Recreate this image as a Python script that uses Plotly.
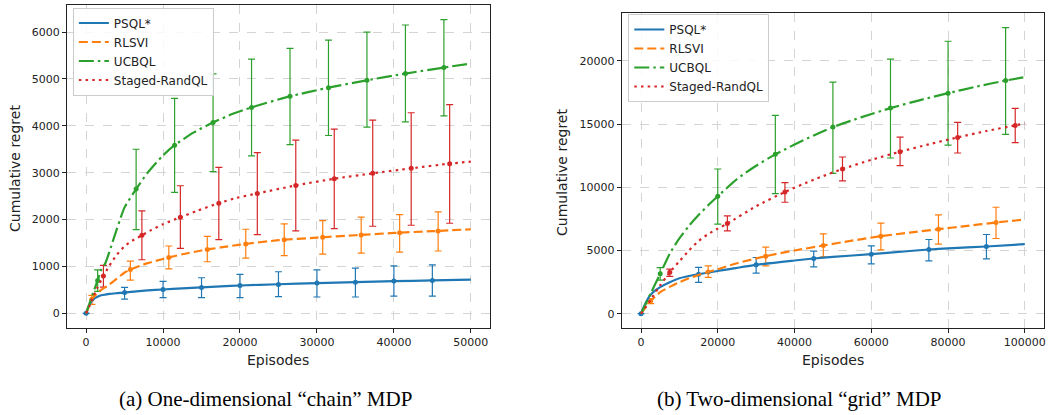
import numpy as np
import plotly.graph_objects as go

# ---------------- data: (a) chain MDP ----------------
names = ["PSQL*", "RLSVI", "UCBQL", "Staged-RandQL"]
colors = ["#1f77b4", "#ff7f0e", "#2ca02c", "#d62728"]
dashes = ["solid", "9px,4px", "15px,4px,2.5px,4px", "2.5px,4.2px"]

chain_psql_x = [0, 250, 500, 750, 1000, 1500, 2000, 2500, 3000, 4000, 5000, 6500, 8000, 10000, 12500, 15000, 17500, 20000, 25000, 30000, 35000, 40000, 45000, 50000]
chain_psql_y = [0, 120, 205, 265, 310, 355, 385, 400, 415, 430, 442, 470, 490, 508, 532, 553, 575, 594, 620, 645, 664, 686, 702, 721]
chain_rlsvi_x = [0, 250, 500, 750, 1000, 1500, 2000, 2500, 3000, 4000, 5000, 5750, 8000, 10000, 12500, 15000, 17500, 20000, 25000, 30000, 35000, 40000, 45000, 50000]
chain_rlsvi_y = [0, 100, 210, 300, 350, 440, 505, 560, 610, 740, 870, 936, 1070, 1160, 1260, 1340, 1405, 1465, 1560, 1615, 1665, 1715, 1752, 1793]
chain_ucbql_x = [0, 500, 1000, 1500, 2000, 2500, 3000, 4000, 5000, 6500, 8000, 10000, 11500, 14000, 16500, 19000, 21500, 26500, 31500, 36500, 41500, 46500, 50000]
chain_ucbql_y = [0, 240, 480, 702, 940, 1070, 1300, 1800, 2260, 2650, 3000, 3370, 3586, 3860, 4071, 4250, 4393, 4629, 4814, 4971, 5114, 5243, 5329]
chain_staged_x = [0, 500, 1000, 1500, 2250, 3000, 4000, 5000, 6000, 7250, 8500, 10000, 12250, 14500, 17250, 19500, 22250, 27250, 32250, 37250, 42250, 47250, 50000]
chain_staged_y = [0, 180, 380, 560, 794, 1010, 1250, 1430, 1550, 1664, 1780, 1900, 2050, 2190, 2350, 2460, 2557, 2729, 2871, 2986, 3093, 3193, 3236]

chain_psql_ex = [0, 5000, 10000, 15000, 20000, 25000, 30000, 35000, 40000, 45000]
chain_psql_ey = [0, 445, 508, 553, 594, 617, 645, 664, 688, 702]
chain_psql_hi = [0, 553, 681, 759, 830, 887, 929, 965, 1014, 1035]
chain_psql_lo = [0, 305, 333, 333, 333, 355, 348, 348, 369, 369]

chain_rlsvi_ex = [750, 5750, 10750, 15750, 20750, 25750, 30750, 35750, 40750, 45750]
chain_rlsvi_ey = [300, 936, 1193, 1364, 1479, 1571, 1621, 1671, 1721, 1757]
chain_rlsvi_hi = [383, 1114, 1436, 1643, 1793, 1907, 1979, 2050, 2107, 2164]
chain_rlsvi_lo = [191, 707, 950, 1100, 1179, 1229, 1264, 1286, 1307, 1329]

chain_ucbql_ex = [1500, 6500, 11500, 16500, 21500, 26500, 31500, 36500, 41500, 46500]
chain_ucbql_ey = [702, 2650, 3586, 4071, 4393, 4629, 4814, 4971, 5114, 5243]
chain_ucbql_hi = [929, 3500, 4586, 5107, 5421, 5650, 5829, 6000, 6150, 6264]
chain_ucbql_lo = [468, 1786, 2579, 3021, 3357, 3600, 3793, 3971, 4086, 4214]

chain_staged_ex = [2250, 7250, 12250, 17250, 22250, 27250, 32250, 37250, 42250, 47250]
chain_staged_ey = [794, 1664, 2050, 2350, 2557, 2729, 2871, 2986, 3093, 3193]
chain_staged_hi = [1021, 2186, 2721, 3114, 3429, 3693, 3929, 4121, 4279, 4450]
chain_staged_lo = [560, 1143, 1386, 1571, 1679, 1757, 1807, 1857, 1879, 1921]

# ---------------- data: (b) grid MDP ----------------
grid_psql_x = [0, 1000, 2000, 3000, 4000, 5000, 7500, 10000, 12500, 15000, 20000, 30000, 40000, 45000, 50000, 60000, 70000, 75000, 80000, 90000, 100000]
grid_psql_y = [0, 700, 1290, 1650, 1900, 2100, 2480, 2800, 2980, 3120, 3380, 3868, 4210, 4368, 4490, 4711, 4960, 5079, 5170, 5316, 5500]
grid_rlsvi_x = [0, 1000, 2500, 5000, 7500, 10000, 12500, 15000, 17500, 20000, 25000, 32500, 40000, 47500, 55000, 62500, 70000, 77500, 85000, 92500, 100000]
grid_rlsvi_y = [0, 420, 995, 1700, 2120, 2490, 2800, 3060, 3298, 3520, 3990, 4553, 5000, 5395, 5780, 6132, 6420, 6684, 6950, 7211, 7447]
grid_ucbql_x = [0, 1000, 2500, 5000, 7500, 10000, 12500, 15000, 17500, 20000, 25000, 30000, 35000, 40000, 45000, 50000, 57500, 65000, 72500, 80000, 87500, 95000, 100000]
grid_ucbql_y = [0, 630, 1600, 3150, 4750, 5950, 6950, 7800, 8580, 9289, 10650, 11700, 12605, 13380, 14100, 14763, 15550, 16263, 16880, 17447, 17970, 18447, 18711]
grid_staged_x = [0, 2500, 5000, 7500, 10000, 12500, 15000, 17500, 20000, 22500, 30000, 37500, 45000, 52500, 60000, 67500, 75000, 82500, 90000, 97500, 100000]
grid_staged_y = [0, 1100, 2250, 3270, 4150, 5000, 5750, 6300, 6730, 7132, 8500, 9632, 10600, 11447, 12170, 12816, 13400, 13947, 14450, 14895, 15053]

grid_psql_ex = [0, 15000, 30000, 45000, 60000, 75000, 90000]
grid_psql_ey = [0, 3120, 3868, 4368, 4711, 5079, 5316]
grid_psql_hi = [0, 3658, 4447, 4947, 5368, 5868, 6263]
grid_psql_lo = [0, 2474, 3210, 3710, 3947, 4184, 4342]

grid_rlsvi_ex = [2500, 17500, 32500, 47500, 62500, 77500, 92500]
grid_rlsvi_ey = [995, 3298, 4553, 5395, 6132, 6684, 7211]
grid_rlsvi_hi = [1184, 3789, 5263, 6316, 7158, 7816, 8421]
grid_rlsvi_lo = [789, 2868, 3789, 4500, 5053, 5500, 5947]

grid_ucbql_ex = [5000, 20000, 35000, 50000, 65000, 80000, 95000]
grid_ucbql_ey = [3150, 9289, 12605, 14763, 16263, 17447, 18447]
grid_ucbql_hi = [3650, 11447, 15684, 18316, 20132, 21553, 22632]
grid_ucbql_lo = [2660, 7079, 9500, 11105, 12316, 13342, 14184]

grid_staged_ex = [7500, 22500, 37500, 52500, 67500, 82500, 97500]
grid_staged_ey = [3270, 7132, 9632, 11447, 12816, 13947, 14895]
grid_staged_hi = [3526, 7737, 10368, 12395, 13974, 15132, 16237]
grid_staged_lo = [2947, 6553, 8816, 10500, 11711, 12711, 13526]

chain_tickvals_x = [0, 10000, 20000, 30000, 40000, 50000]
chain_tickvals_y = [0, 1000, 2000, 3000, 4000, 5000, 6000]
grid_tickvals_x = [0, 20000, 40000, 60000, 80000, 100000]
grid_tickvals_y = [0, 5000, 10000, 15000, 20000]

captions = ["(a) One-dimensional \u201cchain\u201d MDP", "(b) Two-dimensional \u201cgrid\u201d MDP"]

# ---------------- figure ----------------
W, H = 1049, 415
def px(x):
    return x / W
def py(y):
    return 1 - y / H

fig = go.Figure()

chain_curves = [(chain_psql_x, chain_psql_y), (chain_rlsvi_x, chain_rlsvi_y),
                (chain_ucbql_x, chain_ucbql_y), (chain_staged_x, chain_staged_y)]
chain_err = [(chain_psql_ex, chain_psql_ey, chain_psql_hi, chain_psql_lo),
             (chain_rlsvi_ex, chain_rlsvi_ey, chain_rlsvi_hi, chain_rlsvi_lo),
             (chain_ucbql_ex, chain_ucbql_ey, chain_ucbql_hi, chain_ucbql_lo),
             (chain_staged_ex, chain_staged_ey, chain_staged_hi, chain_staged_lo)]
grid_curves = [(grid_psql_x, grid_psql_y), (grid_rlsvi_x, grid_rlsvi_y),
               (grid_ucbql_x, grid_ucbql_y), (grid_staged_x, grid_staged_y)]
grid_err = [(grid_psql_ex, grid_psql_ey, grid_psql_hi, grid_psql_lo),
            (grid_rlsvi_ex, grid_rlsvi_ey, grid_rlsvi_hi, grid_rlsvi_lo),
            (grid_ucbql_ex, grid_ucbql_ey, grid_ucbql_hi, grid_ucbql_lo),
            (grid_staged_ex, grid_staged_ey, grid_staged_hi, grid_staged_lo)]

for panel, (curves, errs, xa, ya, leg) in enumerate([
        (chain_curves, chain_err, "x", "y", "legend"),
        (grid_curves, grid_err, "x2", "y2", "legend2")]):
    for i in range(4):
        ex, ey, hi, lo = errs[i]
        ey_a = np.array(ey, dtype=float)
        fig.add_trace(go.Scatter(
            x=ex, y=ey, mode="markers", xaxis=xa, yaxis=ya, showlegend=False,
            marker=dict(color=colors[i], size=5),
            error_y=dict(type="data", symmetric=False,
                         array=(np.array(hi) - ey_a).tolist(),
                         arrayminus=(ey_a - np.array(lo)).tolist(),
                         color=colors[i], thickness=1.2, width=3.5),
            hoverinfo="skip"))
    for i in range(4):
        cx, cy = curves[i]
        fig.add_trace(go.Scatter(
            x=cx, y=cy, mode="lines", xaxis=xa, yaxis=ya, name=names[i],
            legend=leg,
            line=dict(color=colors[i], width=2.2, dash=dashes[i],
                      shape="spline", smoothing=0.6)))

axis_common = dict(showline=True, mirror=True, linecolor="#222", linewidth=1,
                   ticks="outside", ticklen=4, tickcolor="#222", tickwidth=1,
                   showgrid=True, gridcolor="#d4d4d4", griddash="dash", gridwidth=0.8,
                   zeroline=False, tickformat="d", ticklabeloverflow="allow",
                   tickfont=dict(family="DejaVu Sans", size=11, color="#222"))

legend_common = dict(xanchor="left", yanchor="top",
                     bgcolor="rgba(255,255,255,0.85)", bordercolor="#cccccc", borderwidth=1,
                     font=dict(family="DejaVu Sans", size=12, color="#222"),
                     tracegroupgap=0, itemwidth=30)

fig.update_layout(
    width=W, height=H, margin=dict(l=0, r=0, t=0, b=0),
    paper_bgcolor="white", plot_bgcolor="white",
    xaxis=dict(domain=[px(67), px(491)], range=[-2500, 52500], tickvals=chain_tickvals_x,
               anchor="y", **axis_common),
    yaxis=dict(domain=[py(328), py(5)], range=[-313, 6577], tickvals=chain_tickvals_y,
               anchor="x", **axis_common),
    xaxis2=dict(domain=[px(623), px(1046)], range=[-5000, 105000], tickvals=grid_tickvals_x,
                anchor="y2", **axis_common),
    yaxis2=dict(domain=[py(328), py(13.3)], range=[-1132, 23764], tickvals=grid_tickvals_y,
                anchor="x2", **axis_common),
    legend=dict(x=px(73), y=py(7.5), **legend_common),
    legend2=dict(x=px(629.5), y=py(14), **legend_common),
)

ann_font = dict(family="DejaVu Sans", size=14, color="#222")
annotations = [
    dict(x=px(15), y=py(168), text="Cumulative regret", textangle=-90, font=ann_font),
    dict(x=px(563), y=py(172), text="Cumulative regret", textangle=-90, font=ann_font),
    dict(x=px(279), y=py(360), text="Episodes", font=ann_font),
    dict(x=px(835), y=py(360), text="Episodes", font=ann_font),
    dict(x=px(266.5), y=py(399), text=captions[0],
         font=dict(family="Liberation Serif", size=21, color="black")),
    dict(x=px(801), y=py(399), text=captions[1],
         font=dict(family="Liberation Serif", size=21, color="black")),
]
for a in annotations:
    a.update(xref="paper", yref="paper", showarrow=False, xanchor="center", yanchor="middle")
fig.update_layout(annotations=annotations)

fig.write_html("out.html", config={"displayModeBar": False},
               post_script="document.body.style.margin='0';document.body.style.overflow='hidden';")
